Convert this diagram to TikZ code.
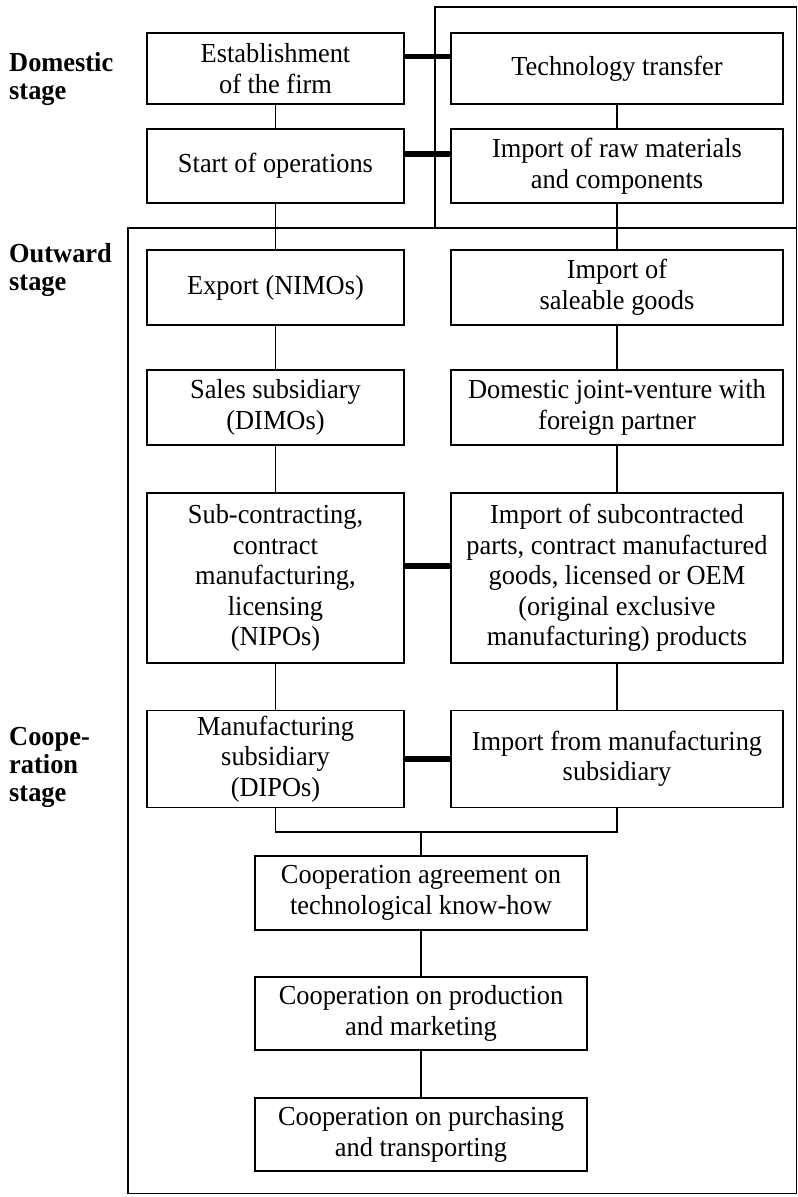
\documentclass[tikz,border=0pt]{standalone}
\usepackage{fontspec}
\setmainfont{Liberation Serif}[FakeStretch=0.96]
\usetikzlibrary{calc}
\begin{document}
\begin{tikzpicture}[x=1pt,y=-1pt,
  box/.style={draw, line width=1.8pt, align=center, inner sep=0pt,
    font=\fontsize{27.5}{30.5}\selectfont},
  lbox/.style={box, minimum width=257},
  rbox/.style={box, minimum width=332},
  cbox/.style={box, minimum width=332},
  stagelabel/.style={anchor=north west, align=left, inner sep=0pt,
    font=\fontsize{27.5}{28}\selectfont\bfseries},
  conn/.style={line width=1.4pt},
  link/.style={line width=5.5pt},
  frame/.style={line width=1.5pt}]
\useasboundingbox (0,0) rectangle (798,1197);

% stage frames
\draw[frame] (435,228) -- (435,7) -- (796.5,7) -- (796.5,1193.5);
\draw[frame] (128,228) rectangle (796.5,1193.5);

% stage labels
\node[stagelabel] (ldom) at (9,52) {Domestic\\stage};
\node[stagelabel] (lout) at (9,243) {Outward\\stage};
\node[stagelabel] (lcoop) at (9,727) {Coope-\\ration\\stage};

% left column
\node[lbox, minimum height=71] (est) at (275.5,68.5) {Establishment\\of the firm};
\node[lbox, minimum height=74] (start) at (275.5,166) {Start of operations};
\node[lbox, minimum height=75] (export) at (275.5,287.5) {Export (NIMOs)};
\node[lbox, minimum height=75] (sales) at (275.5,407.5) {Sales subsidiary\\(DIMOs)};
\node[lbox, minimum height=170] (sub) at (275.5,578) {Sub-contracting,\\contract\\manufacturing,\\licensing\\(NIPOs)};
\node[lbox, minimum height=97] (manuf) at (275.5,759) {Manufacturing\\subsidiary\\(DIPOs)};

% right column
\node[rbox, minimum height=71] (tech) at (617,68.5) {Technology transfer};
\node[rbox, minimum height=74] (raw) at (617,166) {Import of raw materials\\and components};
\node[rbox, minimum height=75] (saleable) at (617,287.5) {Import of\\saleable goods};
\node[rbox, minimum height=75] (djv) at (617,407.5) {Domestic joint-venture with\\foreign partner};
\node[rbox, minimum height=170] (impsub) at (617,578) {Import of subcontracted\\parts, contract manufactured\\goods, licensed or OEM\\(original exclusive\\manufacturing) products};
\node[rbox, minimum height=97] (impmanuf) at (617,759) {Import from manufacturing\\subsidiary};

% cooperation column
\node[cbox, minimum height=74] (agree) at (421,893) {Cooperation agreement on\\technological know-how};
\node[cbox, minimum height=73] (prod) at (421,1013.5) {Cooperation on production\\and marketing};
\node[cbox, minimum height=73] (purch) at (421,1134.5) {Cooperation on purchasing\\and transporting};

% vertical connectors
\draw[conn] (est) -- (start);
\draw[conn] (start) -- (export);
\draw[conn] (export) -- (sales);
\draw[conn] (sales) -- (sub);
\draw[conn] (sub) -- (manuf);
\draw[conn] (tech) -- (raw);
\draw[conn] (raw) -- (saleable);
\draw[conn] (saleable) -- (djv);
\draw[conn] (djv) -- (impsub);
\draw[conn] (impsub) -- (impmanuf);

% merge into the cooperation chain
\coordinate (merge) at (421,832);
\draw[conn] (manuf.south) -- (manuf.south |- merge) -- (impmanuf.south |- merge) -- (impmanuf.south);
\draw[conn] (merge) -- (agree.north);
\draw[conn] (agree) -- (prod);
\draw[conn] (prod) -- (purch);

% heavy links between paired activities
\draw[link] ([yshift=12pt]est.east) -- ([yshift=12pt]tech.west);
\draw[link] ([yshift=12pt]start.east) -- ([yshift=12pt]raw.west);
\draw[link] ([yshift=12pt]sub.east) -- ([yshift=12pt]impsub.west);
\draw[link] (manuf.east) -- (impmanuf.west);
\end{tikzpicture}
\end{document}
